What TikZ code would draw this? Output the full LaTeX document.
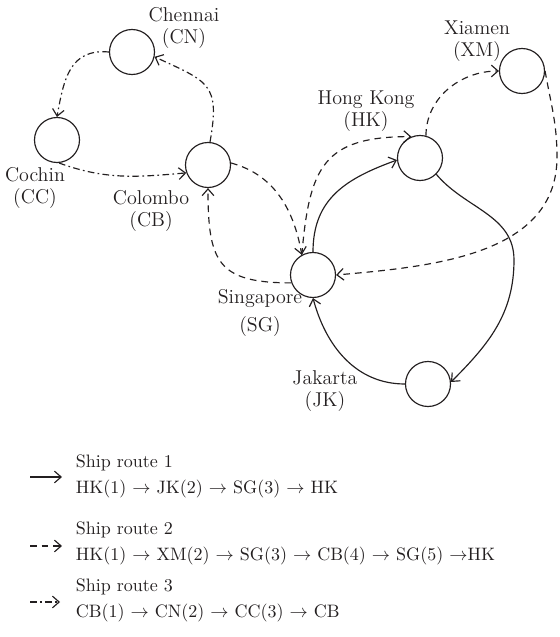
\documentclass[tikz,border=0pt]{standalone}
\usepackage{xcolor}
\definecolor{Ink}{RGB}{35,31,32}
\usetikzlibrary{arrows.meta}

\begin{document}
\begin{tikzpicture}[x=0.6pt, y=0.6pt,
		port/.style={circle, draw=Ink, line width=0.7pt, minimum size=27pt, inner sep=0pt},
		portname/.style={align=center, text=Ink, font=\fontsize{12}{13.5}\selectfont},
		routeone/.style={draw=Ink, line width=0.7pt, -{Straight Barb[length=4pt,width=7pt]}},
		routetwo/.style={routeone, dash pattern=on 4pt off 3pt},
		routethree/.style={routeone, dash pattern=on 4pt off 2pt on 1pt off 2pt},
		legendtext/.style={anchor=west, align=left, text=Ink, font=\fontsize{10.8}{15.5}\selectfont}]
		
		\useasboundingbox (0,0) rectangle (560,637);
		
		% Ports
		\node[port] (CN) at (132,585) {};
		\node[port] (CC) at (57,497) {};
		\node[port] (CB) at (208,472) {};
		\node[port] (HK) at (420,479) {};
		\node[port] (XM) at (522,566) {};
		\node[port] (SG) at (313,362) {};
		\node[port] (JK) at (428,253) {};
		
		% Port names
		\node[portname] (CNname) at (184,609) {Chennai\\(CN)};
		\node[portname] (CCname) at (35,449) {Cochin\\(CC)};
		\node[portname] (CBname) at (151,426) {Colombo\\(CB)};
		\node[portname] (HKname) at (366,526) {Hong Kong\\(HK)};
		\node[portname] (XMname) at (477,596) {Xiamen\\(XM)};
		\node[portname] (SGname) at (260,324) {Singapore\\[3pt](SG)};
		\node[portname] (JKname) at (325,246) {Jakarta\\(JK)};
		
		% Ship route 1
		\draw[routeone] (SG.north) to[out=90, in=200, looseness=1.1] (HK.185);
		\draw[routeone] (HK.-45) to[out=-50, in=90] (514,377) to[out=-90, in=45] (JK.5);
		\draw[routeone] (JK.west) to[out=180, in=-75] (SG.south);
		
		% Ship route 2
		\draw[routetwo] (HK.75) to[out=90, in=180] (XM.west);
		\draw[routetwo] (XM.east) to[out=-80, in=90] (557,480) to[out=-90, in=5] (SG.east);
		\draw[routetwo] (SG.200) to[out=180, in=-90, looseness=1.5] (CB.south);
		\draw[routetwo] (CB.5) to[out=-15, in=100] (SG.119);
		\draw[routetwo] (SG.119) to[out=85, in=180, looseness=1.4] (HK.112);
		
		% Ship route 3
		\draw[routethree] (CB.85) to[out=80, in=-25, looseness=1.5] (CN.-12);
		\draw[routethree] (CN.west) to[out=175, in=80, looseness=1.2] (CC.north);
		\draw[routethree] (CC.-85) to[out=-20, in=185] (CB.200);
		
		% Legend
		\coordinate (keyA1) at (30,160);
		\coordinate (keyB1) at (62,160);
		\coordinate (keyA2) at (30,91);
		\coordinate (keyB2) at (62,91);
		\coordinate (keyA3) at (30,35);
		\coordinate (keyB3) at (60,35);
		
		\draw[routeone] (keyA1) -- (keyB1);
		\draw[routetwo] (keyA2) -- (keyB2);
		\draw[routethree] (keyA3) -- (keyB3);
		
		\node[legendtext] (keytext1) at (70,160.5) {Ship route 1\\HK(1) $\rightarrow$ JK(2) $\rightarrow$ SG(3) $\rightarrow$ HK};
		\node[legendtext] (keytext2) at (70,93.5) {Ship route 2\\HK(1) $\rightarrow$ XM(2) $\rightarrow$ SG(3) $\rightarrow$ CB(4) $\rightarrow$ SG(5) $\rightarrow$HK};
		\node[legendtext] (keytext3) at (70,37) {Ship route 3\\CB(1) $\rightarrow$ CN(2) $\rightarrow$ CC(3) $\rightarrow$ CB};
		
	\end{tikzpicture}
\end{document}
